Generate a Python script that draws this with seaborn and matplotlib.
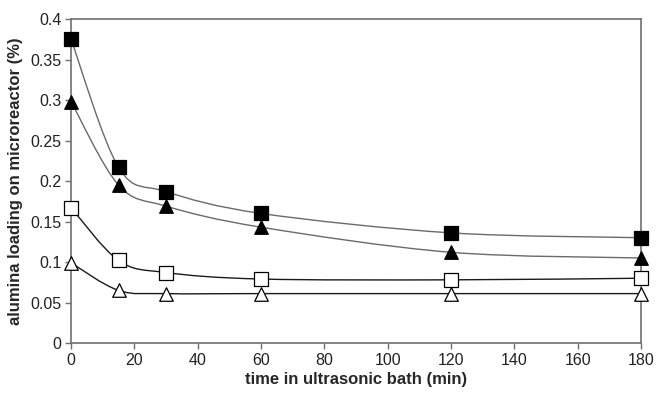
import matplotlib
matplotlib.use("Agg")
import matplotlib.pyplot as plt
from matplotlib.path import Path
from matplotlib.patches import PathPatch
import seaborn as sns
import numpy as np
import pandas as pd

time_min = [0, 15, 30, 60, 120, 180]
filled_square = [0.375, 0.217, 0.187, 0.160, 0.136, 0.130]
filled_triangle = [0.298, 0.195, 0.169, 0.143, 0.112, 0.105]
open_square = [0.167, 0.102, 0.087, 0.079, 0.078, 0.080]
open_triangle = [0.099, 0.065, 0.061, 0.061, 0.061, 0.061]

x_ticks = [0, 20, 40, 60, 80, 100, 120, 140, 160, 180]
y_ticks = [0, 0.05, 0.1, 0.15, 0.2, 0.25, 0.3, 0.35, 0.4]


def smooth_path(xs, ys):
    # Excel-style smoothed line: cubic Bezier segments through the data points
    n = len(xs)
    verts = [(xs[0], ys[0])]
    codes = [Path.MOVETO]
    for i in range(n - 1):
        x0, y0 = (xs[i - 1], ys[i - 1]) if i > 0 else (xs[i], ys[i])
        x1, y1 = xs[i], ys[i]
        x2, y2 = xs[i + 1], ys[i + 1]
        x3, y3 = (xs[i + 2], ys[i + 2]) if i + 2 < n else (x2, y2)
        c1 = (x1 + (x2 - x0) / 6, y1 + (y2 - y0) / 6)
        c2 = (x2 - (x3 - x1) / 6, y2 - (y3 - y1) / 6)
        verts += [c1, c2, (x2, y2)]
        codes += [Path.CURVE4] * 3
    return Path(verts, codes)


sns.set_style("white")
plt.rcParams["font.family"] = ["Liberation Sans", "DejaVu Sans"]

fig = plt.figure(figsize=(6.58, 3.97), dpi=100)
ax = fig.add_axes([0.108, 0.136, 0.866, 0.816])

series = [
    (filled_square, "s", "black", "#6a6a6a"),
    (filled_triangle, "^", "black", "#6a6a6a"),
    (open_square, "s", "white", "#1a1a1a"),
    (open_triangle, "^", "white", "#1a1a1a"),
]

for vals, marker, face, line_color in series:
    ax.add_patch(PathPatch(smooth_path(time_min, vals), facecolor="none",
                           edgecolor=line_color, lw=1.0, zorder=2))
    df = pd.DataFrame({"time": time_min, "loading": vals})
    sns.scatterplot(data=df, x="time", y="loading", marker=marker, s=95,
                    color=face, edgecolor="black", linewidth=0.9,
                    ax=ax, zorder=3, clip_on=False)

ax.set_xlim(0, 180)
ax.set_ylim(0, 0.4)
ax.set_xticks(x_ticks)
ax.set_yticks(y_ticks)
ax.set_xticklabels([str(t) for t in x_ticks])
ax.set_yticklabels(["0", "0.05", "0.1", "0.15", "0.2", "0.25", "0.3", "0.35", "0.4"])

for side in ["left", "bottom", "top", "right"]:
    ax.spines[side].set_visible(True)
    ax.spines[side].set_color("#707070")
    ax.spines[side].set_linewidth(1.2)

ax.tick_params(axis="both", which="major", direction="out", length=4,
               width=1, color="#707070", labelsize=11.5, labelcolor="#222222",
               bottom=True, left=True, pad=3)

ax.set_xlabel("time in ultrasonic bath (min)", fontsize=12, fontweight="bold",
              labelpad=3)
ax.set_ylabel("alumina loading on microreactor (%)", fontsize=12,
              fontweight="bold", labelpad=5)

fig.savefig("out.png", dpi=100, facecolor="white")
